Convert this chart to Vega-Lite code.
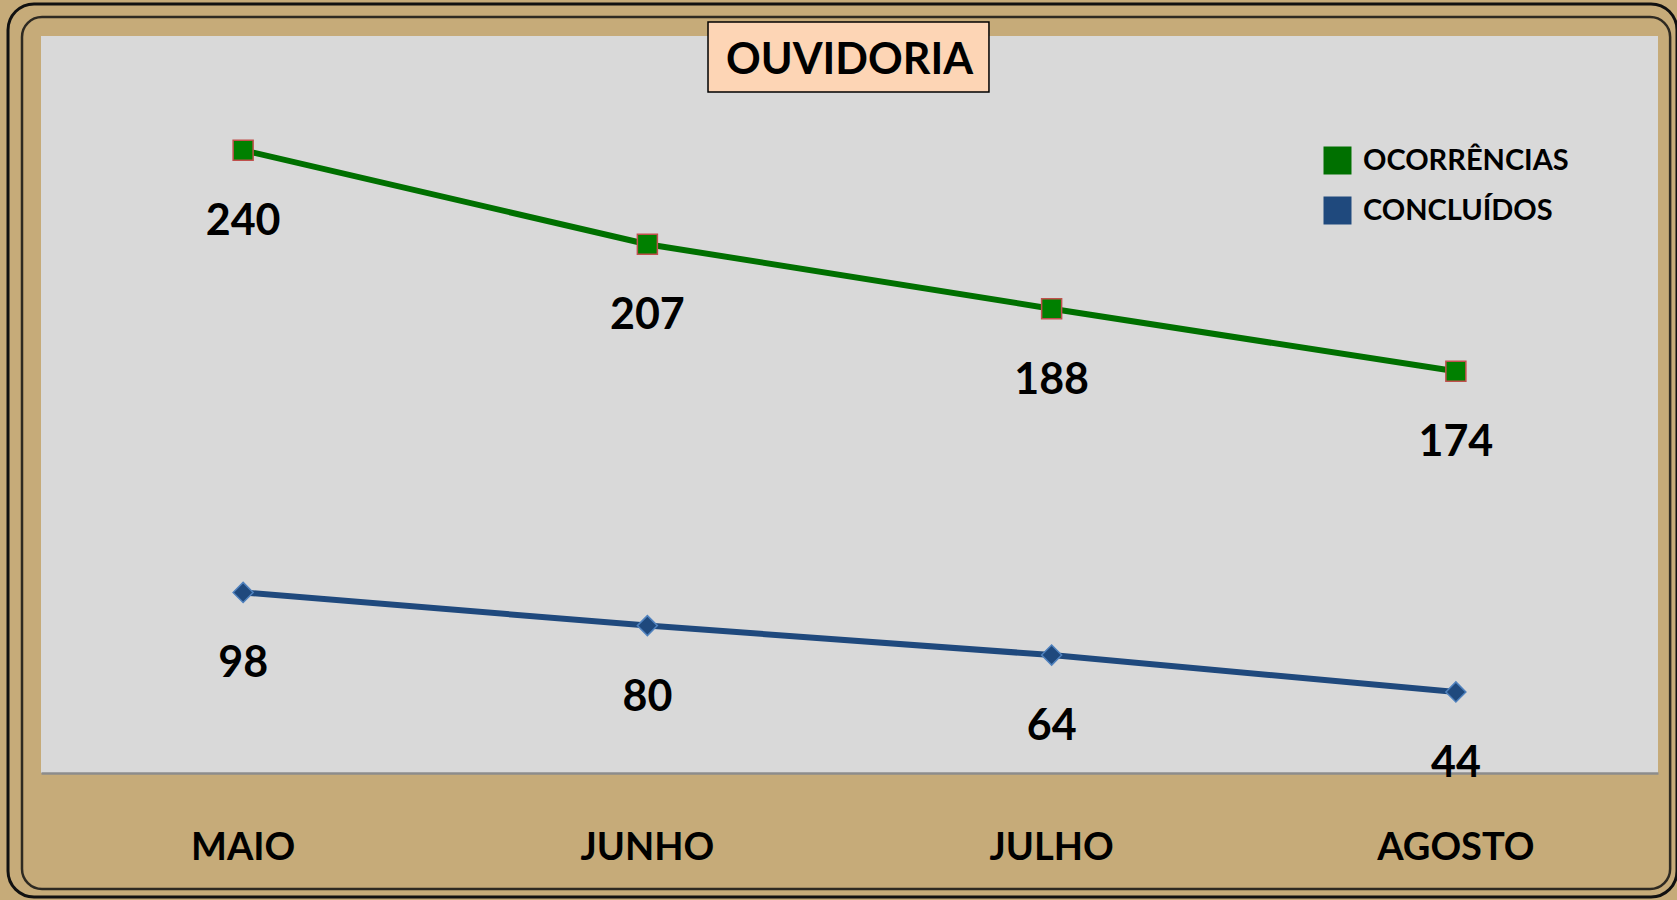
{
  "$schema": "https://vega.github.io/schema/vega-lite/v6.json",
  "width": 1617,
  "height": 737,
  "autosize": {"type": "none"},
  "padding": {"left": 41, "top": 36, "right": 19, "bottom": 127},
  "background": "#c6ab79",
  "data": {
    "values": [
      {"mes": "MAIO", "serie": "OCORRÊNCIAS", "valor": 240},
      {"mes": "JUNHO", "serie": "OCORRÊNCIAS", "valor": 207},
      {"mes": "JULHO", "serie": "OCORRÊNCIAS", "valor": 188},
      {"mes": "AGOSTO", "serie": "OCORRÊNCIAS", "valor": 174},
      {"mes": "MAIO", "serie": "CONCLUÍDOS", "valor": 98},
      {"mes": "JUNHO", "serie": "CONCLUÍDOS", "valor": 80},
      {"mes": "JULHO", "serie": "CONCLUÍDOS", "valor": 64},
      {"mes": "AGOSTO", "serie": "CONCLUÍDOS", "valor": 44}
    ]
  },
  "transform": [
    {"stack": "valor", "groupby": ["mes"], "sort": [{"field": "serie", "order": "ascending"}], "as": ["y0", "y1"]}
  ],
  "encoding": {
    "x": {
      "field": "mes",
      "type": "nominal",
      "scale": {"type": "band", "domain": ["MAIO", "JUNHO", "JULHO", "AGOSTO"], "paddingInner": 0, "paddingOuter": 0},
      "axis": {
        "title": null,
        "labelAngle": 0,
        "ticks": false,
        "tickSize": 0,
        "labelPadding": 86,
        "labelBaseline": "alphabetic",
        "labelFont": "Lato",
        "labelFontWeight": "bold",
        "labelFontSize": 38,
        "labelColor": "#000000",
        "domainColor": "#8c8c8c",
        "domainWidth": 2.5,
        "grid": false
      }
    }
  },
  "layer": [
    {
      "mark": {"type": "line", "strokeWidth": 6},
      "encoding": {
        "y": {"field": "y1", "type": "quantitative", "scale": {"domain": [0, 400], "nice": false}, "axis": null},
        "color": {
          "field": "serie",
          "type": "nominal",
          "scale": {"domain": ["OCORRÊNCIAS", "CONCLUÍDOS"], "range": ["#007000", "#1f497d"]},
          "legend": {
            "title": null,
            "orient": "none",
            "legendX": 1282,
            "legendY": 110,
            "symbolType": "square",
            "symbolSize": 784,
            "symbolStrokeWidth": 0,
            "labelFont": "Lato",
            "labelFontWeight": "bold",
            "labelFontSize": 29,
            "labelLimit": 400,
            "labelColor": "#000000",
            "labelOffset": 11,
            "rowPadding": 20,
            "padding": 0,
            "encode": {
              "symbols": {
                "update": {
                  "fill": {"scale": "color", "field": "value"},
                  "stroke": {"value": "transparent"},
                  "shape": {"value": "square"},
                  "size": {"value": 784},
                  "opacity": {"value": 1}
                }
              }
            }
          }
        }
      }
    },
    {
      "mark": {"type": "point", "filled": true, "size": 400, "strokeWidth": 1.5, "opacity": 1},
      "encoding": {
        "y": {"field": "y1", "type": "quantitative"},
        "fill": {"field": "serie", "type": "nominal", "scale": {"domain": ["CONCLUÍDOS", "OCORRÊNCIAS"], "range": ["#1f497d", "#008000"]}, "legend": null},
        "stroke": {"field": "serie", "type": "nominal", "scale": {"domain": ["CONCLUÍDOS", "OCORRÊNCIAS"], "range": ["#4f81bd", "#c0504d"]}, "legend": null},
        "shape": {"field": "serie", "type": "nominal", "scale": {"domain": ["CONCLUÍDOS", "OCORRÊNCIAS"], "range": ["diamond", "square"]}, "legend": null}
      }
    },
    {
      "mark": {"type": "text", "dy": 72, "baseline": "middle", "align": "center", "font": "Lato", "fontWeight": "bold", "fontSize": 43, "color": "#000000"},
      "encoding": {
        "y": {"field": "y1", "type": "quantitative"},
        "text": {"field": "valor", "type": "quantitative"}
      }
    },
    {
      "data": {"values": [{"titulo": "OUVIDORIA"}]},
      "layer": [
        {
          "mark": {"type": "rect", "fill": "#fdd5b5", "stroke": "#000000", "strokeWidth": 1.5},
          "encoding": {
            "x": {"datum": "JUNHO", "bandPosition": 0.65},
            "x2": {"datum": "JULHO", "bandPosition": 0.345},
            "y": {"datum": 407.6},
            "y2": {"datum": 369.6}
          }
        },
        {
          "mark": {"type": "text", "align": "center", "baseline": "alphabetic", "font": "Lato", "fontWeight": "bold", "fontSize": 43, "color": "#000000"},
          "encoding": {
            "x": {"datum": "JUNHO", "bandPosition": 1},
            "y": {"datum": 379.4},
            "text": {"field": "titulo"}
          }
        },
        {
          "mark": {"type": "rect", "fillOpacity": 0, "stroke": "#111111", "strokeWidth": 3, "cornerRadius": 26},
          "encoding": {
            "x": {"datum": "MAIO", "bandPosition": -0.0816},
            "x2": {"datum": "AGOSTO", "bandPosition": 1.047},
            "y": {"datum": 417.4},
            "y2": {"datum": -67.3}
          }
        },
        {
          "mark": {"type": "rect", "fillOpacity": 0, "stroke": "#2e2a22", "strokeWidth": 2.5, "cornerRadius": 20},
          "encoding": {
            "x": {"datum": "MAIO", "bandPosition": -0.047},
            "x2": {"datum": "AGOSTO", "bandPosition": 1.03},
            "y": {"datum": 410.3},
            "y2": {"datum": -62.9}
          }
        }
      ]
    }
  ],
  "config": {
    "view": {"stroke": null, "fill": "#d9d9d9"}
  }
}
